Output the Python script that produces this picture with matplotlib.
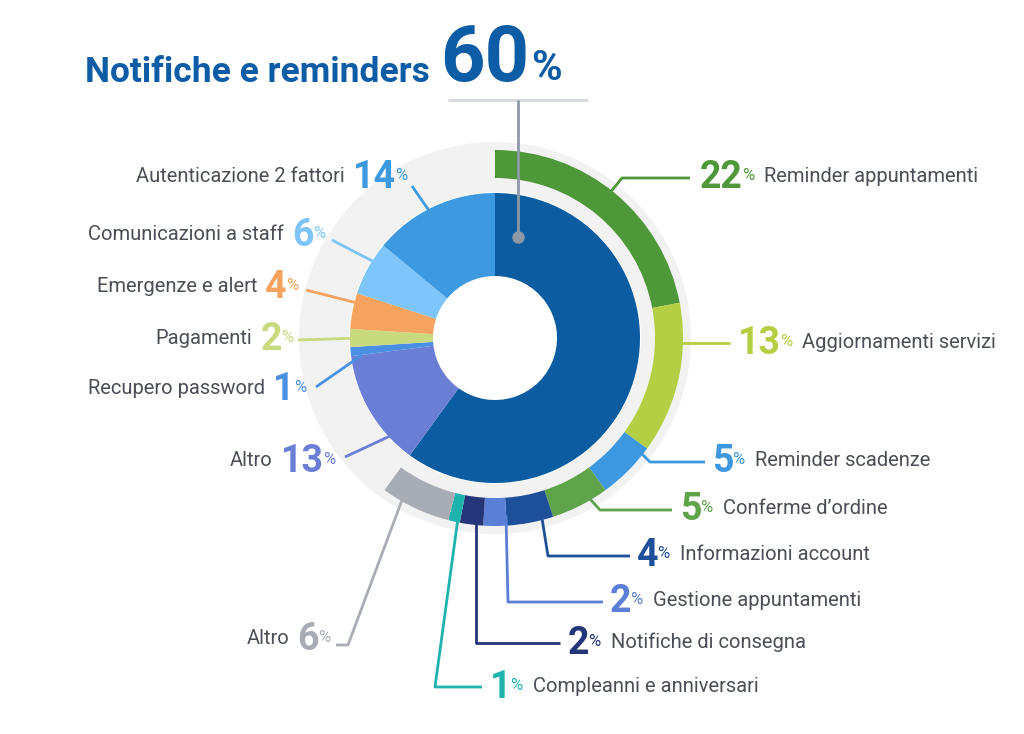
import matplotlib
matplotlib.use("Agg")
import matplotlib.pyplot as plt

plt.rcParams['font.family'] = ['Roboto', 'DejaVu Sans']

inner_labels = ["Notifiche e reminders", "Altro", "Recupero password", "Pagamenti",
                "Emergenze e alert", "Comunicazioni a staff", "Autenticazione 2 fattori"]
inner_values = [60, 13, 1, 2, 4, 6, 14]
inner_colors = ["#0B5CA1", "#6A7ED6", "#4A90E2", "#C8DA7E", "#F5A35E", "#7DC5FA", "#3D9AE0"]

outer_labels = ["Reminder appuntamenti", "Aggiornamenti servizi", "Reminder scadenze",
                "Conferme d’ordine", "Informazioni account", "Gestione appuntamenti",
                "Notifiche di consegna", "Compleanni e anniversari", "Altro"]
outer_values = [22, 13, 5, 5, 4, 2, 2, 1, 6]
outer_colors = ["#4F983A", "#B5CF45", "#3E98E0", "#5FA34A", "#1E4F99", "#5B7FD6",
                "#24357A", "#1FB3AE", "#A8ADB5"]

W, H = 1024, 734
fig = plt.figure(figsize=(10.24, 7.34), dpi=100)
ax = fig.add_axes([0, 0, 1, 1])

cx, cy = 495, H - 338
ax.pie([1], radius=196, center=(cx, cy), colors=["#F2F2F3"],
       wedgeprops=dict(width=50, linewidth=0), startangle=90, frame=True)
ax.pie(inner_values, radius=145, center=(cx, cy), colors=inner_colors, startangle=90,
       counterclock=False, wedgeprops=dict(width=83, linewidth=0), frame=True)
ax.pie(outer_values + [40], radius=188, center=(cx, cy),
       colors=outer_colors + ["none"], startangle=90, counterclock=False,
       wedgeprops=dict(width=28, linewidth=0), frame=True)
ax.set_xlim(0, W); ax.set_ylim(0, H); ax.set_aspect('equal'); ax.axis('off')

renderer = fig.canvas.get_renderer()
GRAY = "#4A4F57"
NUM_FS, PCT_FS, LAB_FS = 27, 12, 14.5

def width_of(t):
    return t.get_window_extent(renderer).width

def right_label(x, y, num, label, color):
    t1 = ax.text(x, H - y, str(num), fontsize=NUM_FS, fontweight='bold', color=color, va='center', ha='left')
    x2 = x + width_of(t1) - 1
    t2 = ax.text(x2, H - y + 2, "%", fontsize=PCT_FS, color=color, va='center', ha='left')
    x3 = x2 + width_of(t2) + 10
    ax.text(x3, H - y + 1, label, fontsize=LAB_FS, color=GRAY, va='center', ha='left')

def left_label(xend, y, num, label, color):
    t2 = ax.text(xend, H - y + 2, "%", fontsize=PCT_FS, color=color, va='center', ha='right')
    x1 = xend - width_of(t2) + 1
    t1 = ax.text(x1, H - y, str(num), fontsize=NUM_FS, fontweight='bold', color=color, va='center', ha='right')
    x0 = x1 - width_of(t1) - 8
    ax.text(x0, H - y + 1, label, fontsize=LAB_FS, color=GRAY, va='center', ha='right')

def line(pts, color):
    ax.plot([p[0] for p in pts], [H - p[1] for p in pts], color=color, lw=2, solid_capstyle='butt')

right_pos = [(700, 178, [(600, 205), (622, 178), (690, 178)]),
             (738, 343, [(668, 343), (730, 343)]),
             (712, 462, [(630, 442), (650, 462), (705, 462)]),
             (680, 510, [(580, 488), (600, 510), (672, 510)]),
             (637, 556, [(541, 512), (548, 556), (630, 556)]),
             (610, 602, [(506, 516), (508, 602), (603, 602)]),
             (568, 643, [(476, 518), (476, 643), (560, 643)]),
             (490, 687, [(458, 518), (435, 687), (482, 687)]),
             (None, 640, [(405, 492), (348, 645), (336, 645)])]
for (x, y, pts), v, lab, c in zip(right_pos, outer_values, outer_labels, outer_colors):
    line(pts, c)
    if x is None:
        left_label(330, y, v, lab, c)
    else:
        right_label(x, y, v, lab, c)

left_pos = [None,
            (335, 462, [(420, 422), (345, 457)]),
            (306, 390, [(362, 355), (316, 387)]),
            (293, 340, [(360, 338), (298, 340)]),
            (298, 288, [(365, 305), (306, 290)]),
            (325, 236, [(380, 265), (332, 240)]),
            (407, 178, [(432, 215), (412, 186)])]
for pos, v, lab, c in zip(left_pos, inner_values, inner_labels, inner_colors):
    if pos is None:
        continue
    x, y, pts = pos
    line(pts, c)
    left_label(x, y, v, lab, c)

TB = "#0D5CA6"
ax.text(85, H - 72, inner_labels[0], fontsize=25.5, fontweight='bold', color=TB, va='center', ha='left')
t60 = ax.text(440, H - 60, str(inner_values[0]), fontsize=56, fontweight='bold', color=TB, va='center', ha='left')
ax.text(440 + width_of(t60) + 2, H - 68, "%", fontsize=30, fontweight='bold', color=TB, va='center', ha='left')
line([(448, 100), (588, 100)], "#D5D8DC")
line([(518, 100), (518, 237)], "#8E98A6")
ax.plot([518], [H - 237], 'o', color="#8E98A6", ms=8)

fig.savefig("out.png", dpi=100)
